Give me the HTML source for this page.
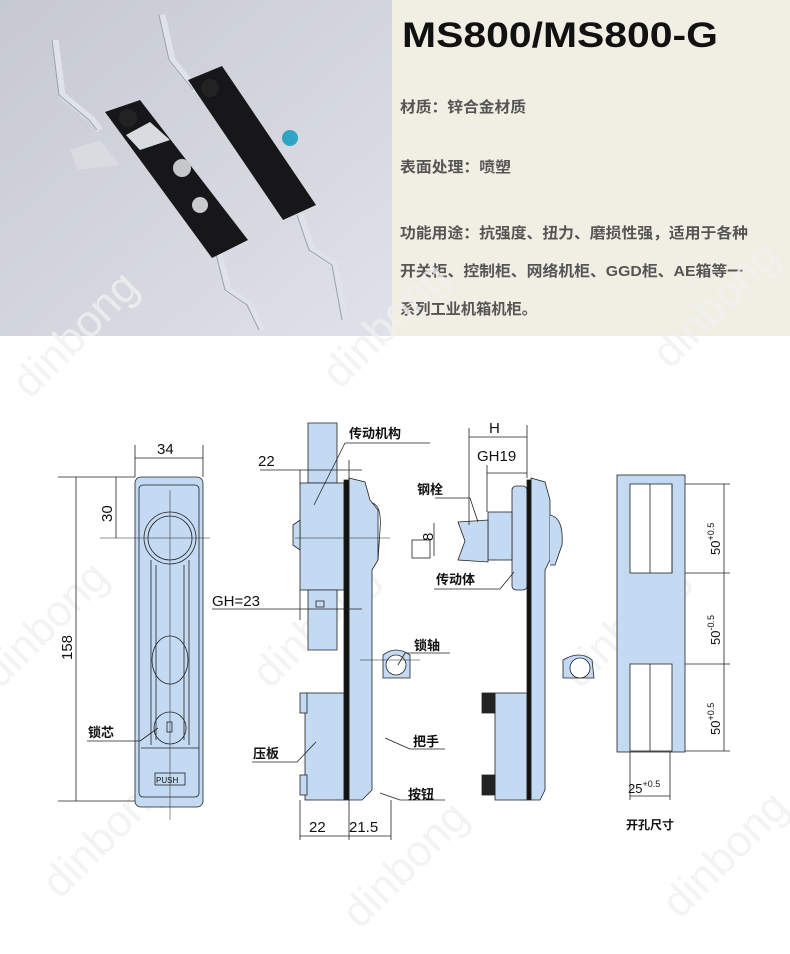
<!DOCTYPE html>
<html><head><meta charset="utf-8"><style>
html,body{margin:0;padding:0;background:#fff;}
svg{display:block;font-family:"Liberation Sans","Noto Sans CJK SC",sans-serif;}
.cn{font-family:"Liberation Sans","Noto Sans CJK SC",sans-serif;font-weight:bold;}
</style></head><body>
<svg width="790" height="954" viewBox="0 0 790 954" xmlns="http://www.w3.org/2000/svg">
<defs>
<linearGradient id="ph" x1="0" y1="0" x2="1" y2="1">
<stop offset="0" stop-color="#c6c9d2"/><stop offset="1" stop-color="#dfe2e8"/></linearGradient>
</defs>
<rect x="0" y="0" width="392" height="336" fill="url(#ph)"/>
<rect x="392" y="0" width="398" height="336" fill="#f1efe4"/>
<!-- photo: latches -->
<g fill="none" stroke="#dfe3e9" stroke-width="7" stroke-linejoin="round">
<polyline points="55,40 62,95 92,120 100,130"/>
<polyline points="162,15 172,60 188,80 196,90"/>
<polyline points="218,250 228,290 250,305 262,330"/>
<polyline points="300,215 312,250 335,265 345,320"/>
</g>
<g fill="none" stroke="#9aa0a8" stroke-width="1">
<polyline points="52,40 59,95 89,120 97,130"/>
<polyline points="159,15 169,60 185,80 193,90"/>
<polyline points="215,250 225,290 247,305 259,330"/>
<polyline points="297,215 309,250 332,265 342,320"/>
</g>
<polygon points="105,112 140,100 248,240 212,258" fill="#17171a"/>
<polygon points="188,80 222,66 316,205 283,220" fill="#17171a"/>
<polygon points="70,150 100,140 120,165 78,170" fill="#d8dbe0"/>
<polygon points="126,135 150,122 170,140 140,150" fill="#d8dbe0"/>
<circle cx="128" cy="118" r="9" fill="#222"/>
<circle cx="210" cy="88" r="9" fill="#222"/>
<circle cx="182" cy="168" r="9" fill="#c5c7c9"/>
<circle cx="200" cy="205" r="8" fill="#c9cbcd"/>
<circle cx="290" cy="138" r="8" fill="#30a4c4"/>
<text x="402" y="47" font-size="35" font-weight="bold" fill="#111" textLength="316" lengthAdjust="spacingAndGlyphs">MS800/MS800-G</text>
<g class="cn" font-size="15" fill="#555">
<text x="400" y="112" textLength="126" lengthAdjust="spacingAndGlyphs">材质：锌合金材质</text>
<text x="400" y="172" textLength="111" lengthAdjust="spacingAndGlyphs">表面处理：喷塑</text>
<text x="400" y="238" textLength="348" lengthAdjust="spacingAndGlyphs">功能用途：抗强度、扭力、磨损性强，适用于各种</text>
<text x="400" y="276" textLength="343" lengthAdjust="spacingAndGlyphs">开关柜、控制柜、网络机柜、GGD柜、AE箱等一</text>
<text x="400" y="314" textLength="137" lengthAdjust="spacingAndGlyphs">系列工业机箱机柜。</text>
</g>
<!-- watermarks -->
<g fill="#f1f1f1" font-size="44" font-family="Liberation Sans,sans-serif" opacity="0.8">
<text transform="translate(30,400) rotate(-45)">dinbong</text>
<text transform="translate(340,390) rotate(-45)">dinbong</text>
<text transform="translate(670,370) rotate(-45)">dinbong</text>
<text transform="translate(0,690) rotate(-45)">dinbong</text>
<text transform="translate(270,690) rotate(-45)">dinbong</text>
<text transform="translate(580,690) rotate(-45)">dinbong</text>
<text transform="translate(60,900) rotate(-45)">dinbong</text>
<text transform="translate(360,930) rotate(-45)">dinbong</text>
<text transform="translate(680,920) rotate(-45)">dinbong</text>
</g>
<g stroke="#222" stroke-width="0.8" fill="none">
<!-- front view -->
<rect x="135" y="477" width="68" height="330" rx="6" fill="#c4d9f2"/>
<rect x="139" y="485" width="60" height="312" rx="4"/>
<circle cx="170" cy="538" r="26"/>
<circle cx="170" cy="538" r="22"/>
<line x1="151" y1="560" x2="151" y2="745"/><line x1="189" y1="560" x2="189" y2="745"/>
<line x1="156" y1="565" x2="156" y2="740"/><line x1="184" y1="565" x2="184" y2="740"/>
<ellipse cx="170" cy="660" rx="18" ry="24"/>
<circle cx="170" cy="728" r="16"/>
<rect x="167" y="722" width="5" height="10"/>
<line x1="141" y1="748" x2="199" y2="748"/>
<rect x="155" y="773" width="30" height="12"/>
<line x1="170" y1="490" x2="170" y2="820" stroke-width="0.5"/>
<line x1="100" y1="538" x2="210" y2="538" stroke-width="0.5"/>
<line x1="135" y1="445" x2="135" y2="477"/><line x1="203" y1="445" x2="203" y2="477"/>
<line x1="135" y1="458" x2="203" y2="458"/>
<line x1="58" y1="477" x2="135" y2="477"/><line x1="58" y1="801" x2="135" y2="801"/>
<line x1="76" y1="477" x2="76" y2="801"/>
<line x1="116" y1="477" x2="116" y2="538"/>
<line x1="87" y1="741" x2="140" y2="741"/><line x1="140" y1="741" x2="158" y2="728"/>
<!-- side view 1 -->
<path d="M308,423 L337,423 L337,483 L308,483 Z" fill="#c4d9f2"/>
<rect x="300" y="483" width="44" height="107" fill="#c4d9f2"/>
<path d="M308,590 L337,590 L337,650 L308,650 Z" fill="#c4d9f2"/>
<rect x="316" y="601" width="8" height="6"/>
<path d="M293,525 L300,520 L300,550 L293,545 Z" fill="#c4d9f2"/>
<path d="M349,478 L365,482 L370,500 L378,510 L378,560 L372,570 L372,790 L362,800 L349,800 Z" fill="#c4d9f2"/>
<path d="M372,503 Q382,505 380,530 L378,560" />
<path d="M383,655 Q396,645 410,655 L410,678 L383,678 Z" fill="#c4d9f2"/>
<circle cx="396" cy="665" r="10" fill="#fff"/>
<rect x="305" y="693" width="39" height="107" fill="#c4d9f2"/>
<rect x="300" y="693" width="7" height="20" fill="#c4d9f2"/>
<rect x="300" y="775" width="7" height="20" fill="#c4d9f2"/>
<rect x="344" y="480" width="5" height="320" fill="#111"/>
<line x1="295" y1="538" x2="390" y2="538" stroke-width="0.5"/>
<line x1="360" y1="660" x2="420" y2="660" stroke-width="0.5"/>
<line x1="300" y1="470" x2="300" y2="485"/><line x1="349" y1="460" x2="349" y2="480"/>
<line x1="260" y1="470" x2="362" y2="470"/>
<line x1="212" y1="609" x2="362" y2="609"/>
<line x1="300" y1="590" x2="300" y2="620"/>
<line x1="300" y1="800" x2="300" y2="840"/><line x1="349" y1="800" x2="349" y2="840"/><line x1="391" y1="800" x2="391" y2="840"/>
<line x1="300" y1="836" x2="391" y2="836"/>
<line x1="345" y1="443" x2="430" y2="443"/><line x1="345" y1="443" x2="314" y2="505"/>
<line x1="252" y1="762" x2="297" y2="762"/><line x1="297" y1="762" x2="316" y2="742"/>
<line x1="405" y1="653" x2="450" y2="653"/><line x1="405" y1="653" x2="398" y2="665"/>
<line x1="410" y1="749" x2="445" y2="749"/><line x1="410" y1="749" x2="385" y2="738"/>
<line x1="400" y1="800" x2="445" y2="800"/><line x1="400" y1="800" x2="380" y2="793"/>
<!-- side view 2 -->
<rect x="512" y="486" width="15" height="104" rx="4" fill="#c4d9f2"/>
<rect x="488" y="512" width="24" height="48" fill="#c4d9f2"/>
<path d="M458,522 L488,520 L488,562 L458,560 L465,541 Z" fill="#c4d9f2"/>
<rect x="412" y="540" width="18" height="18" fill="#fff"/>
<path d="M531,478 L545,482 L550,500 L550,560 L545,570 L545,790 L540,800 L531,800 Z" fill="#c4d9f2"/>
<path d="M550,515 Q564,518 562,545 L555,565 L550,565" fill="#c4d9f2"/>
<path d="M563,660 Q580,650 592,660 L594,678 L563,678 Z" fill="#c4d9f2"/>
<circle cx="580" cy="668" r="10" fill="#fff"/>
<rect x="495" y="693" width="32" height="107" fill="#c4d9f2"/>
<rect x="482" y="693" width="13" height="20" fill="#222"/>
<rect x="482" y="775" width="13" height="20" fill="#222"/>
<rect x="527" y="480" width="4" height="320" fill="#111"/>
<line x1="469" y1="428" x2="469" y2="525"/><line x1="487" y1="465" x2="487" y2="512"/><line x1="527" y1="425" x2="527" y2="478"/>
<line x1="469" y1="437" x2="527" y2="437"/><line x1="487" y1="473" x2="527" y2="473"/>
<line x1="435" y1="498" x2="470" y2="498"/><line x1="470" y1="498" x2="478" y2="522"/>
<line x1="434" y1="589" x2="500" y2="589"/><line x1="500" y1="589" x2="514" y2="572"/>
<line x1="434" y1="523" x2="434" y2="556"/>
<!-- cutout -->
<rect x="617" y="475" width="68" height="277" fill="#c4d9f2"/>
<rect x="630" y="484" width="42" height="89" fill="#fff"/>
<rect x="630" y="664" width="42" height="87" fill="#fff"/>
<line x1="650" y1="484" x2="650" y2="573"/><line x1="672" y1="484" x2="672" y2="573"/>
<line x1="650" y1="664" x2="650" y2="751"/>
<line x1="685" y1="484" x2="730" y2="484"/><line x1="685" y1="573" x2="730" y2="573"/>
<line x1="685" y1="664" x2="730" y2="664"/><line x1="685" y1="751" x2="730" y2="751"/>
<line x1="724" y1="484" x2="724" y2="751"/>
<line x1="630" y1="752" x2="630" y2="800"/><line x1="670" y1="752" x2="670" y2="800"/>
<line x1="630" y1="796" x2="670" y2="796"/>
</g>
<g font-size="15" fill="#111">
<text x="157" y="454">34</text>
<text transform="translate(112,522) rotate(-90)">30</text>
<text transform="translate(72,660) rotate(-90)">158</text>
<text x="258" y="466">22</text>
<text x="212" y="606">GH=23</text>
<text x="309" y="832">22</text>
<text x="349" y="832">21.5</text>
<text x="489" y="433">H</text>
<text x="477" y="461">GH19</text>
<text transform="translate(433,541) rotate(-90)">8</text>
<text transform="translate(720,555) rotate(-90)" font-size="13">50<tspan font-size="9" dy="-6">+0.5</tspan></text>
<text transform="translate(720,645) rotate(-90)" font-size="13">50<tspan font-size="9" dy="-6">-0.5</tspan></text>
<text transform="translate(720,735) rotate(-90)" font-size="13">50<tspan font-size="9" dy="-6">+0.5</tspan></text>
<text x="628" y="793" font-size="13">25<tspan font-size="9" dy="-6">+0.5</tspan></text>
</g>
<g class="cn" font-size="13" fill="#111">
<text x="349" y="438">传动机构</text>
<text x="417" y="494">钢栓</text>
<text x="436" y="584">传动体</text>
<text x="414" y="650">锁轴</text>
<text x="413" y="746">把手</text>
<text x="408" y="799">按钮</text>
<text x="88" y="737">锁芯</text>
<text x="253" y="758">压板</text>
<text x="626" y="829" font-size="12">开孔尺寸</text>
</g>
<text x="156" y="783" font-size="8" fill="#111">PUSH</text>
</svg>
</body></html>
